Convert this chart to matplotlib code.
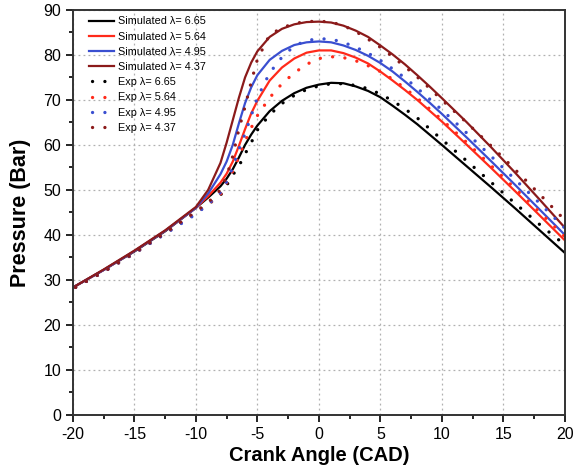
import numpy as np
import matplotlib
matplotlib.use("Agg")
import matplotlib.pyplot as plt
from matplotlib.ticker import MultipleLocator

plt.rcParams['font.family'] = ['Liberation Sans', 'DejaVu Sans']
plt.rcParams['axes.unicode_minus'] = False

# crank angle samples (CAD)
cad = [-20, -17.5, -15, -12.5, -10, -9, -8, -7.5, -7, -6.5, -6, -5.5, -5,
       -4, -3, -2, -1, 0, 1, 2, 3, 4, 5, 6, 7, 8, 9, 10, 12, 14, 16, 18, 20]

# simulated pressure (bar)
sim_665 = [28.3, 32.2, 36.3, 40.8, 46.0, 48.3, 50.8, 52.5, 54.6, 57.2, 60.0, 62.3, 64.3,
           67.5, 69.8, 71.5, 72.7, 73.4, 73.8, 73.7, 73.0, 72.0, 70.6, 68.7, 66.7, 64.6,
           62.3, 60.0, 55.3, 50.6, 45.8, 40.9, 36.0]
sim_564 = [28.3, 32.2, 36.4, 40.9, 46.0, 48.6, 51.6, 53.6, 56.3, 59.8, 63.5, 67.0, 69.8,
           74.3, 77.2, 79.2, 80.5, 81.0, 81.0, 80.4, 79.4, 78.1, 76.3, 74.3, 72.2, 70.0,
           67.6, 65.2, 60.1, 54.9, 49.6, 44.2, 38.8]
sim_495 = [28.3, 32.2, 36.4, 40.9, 46.0, 49.2, 53.5, 56.3, 60.0, 64.8, 69.3, 72.8, 75.5,
           78.9, 80.9, 82.2, 82.8, 83.0, 82.8, 82.1, 81.1, 79.8, 78.2, 76.3, 74.1, 71.8,
           69.4, 66.9, 61.7, 56.4, 51.0, 45.5, 40.0]
sim_437 = [28.3, 32.3, 36.5, 41.0, 46.2, 50.0, 56.0, 60.5, 65.5, 70.5, 75.0, 78.3, 80.8,
           84.0, 85.8, 86.8, 87.3, 87.4, 87.2, 86.5, 85.4, 84.0, 82.1, 80.1, 77.9, 75.5,
           73.0, 70.4, 65.1, 59.5, 53.7, 47.7, 41.6]

# experimental pressure (bar)
exp_665 = [28.0, 31.8, 35.9, 40.3, 45.0, 46.8, 48.8, 51.0, 53.3, 55.3, 58.0, 60.5, 63.3,
           66.7, 69.2, 71.0, 72.3, 73.1, 73.6, 73.6, 73.2, 72.5, 71.3, 69.8, 68.0, 66.0,
           63.6, 61.2, 56.5, 51.7, 46.9, 42.2, 37.8]
exp_564 = [28.0, 31.8, 35.9, 40.3, 44.8, 46.8, 49.0, 51.5, 54.2, 57.3, 60.8, 63.8, 66.5,
           70.5, 73.6, 76.0, 77.9, 79.2, 79.6, 79.4, 78.7, 77.6, 76.3, 74.6, 72.6, 70.4,
           68.0, 65.6, 60.6, 55.4, 50.2, 44.9, 39.6]
exp_495 = [28.0, 31.8, 35.9, 40.2, 44.6, 46.8, 49.4, 51.8, 55.0, 59.0, 62.5, 66.5, 70.5,
           76.0, 79.5, 82.0, 83.2, 83.6, 83.5, 82.8, 81.7, 80.4, 78.8, 76.9, 74.9, 72.6,
           70.2, 67.8, 62.7, 57.5, 52.2, 46.9, 41.5]
exp_437 = [28.0, 31.8, 36.0, 40.4, 45.2, 47.2, 50.0, 53.0, 57.5, 63.5, 68.5, 74.0, 79.0,
           84.5, 86.0, 87.0, 87.4, 87.5, 87.3, 86.5, 85.2, 83.5, 81.7, 79.6, 77.4, 75.1,
           72.6, 70.0, 65.0, 59.8, 54.4, 48.9, 43.3]

sim_series = [(sim_665, "#000000", "Simulated λ= 6.65"),
              (sim_564, "#ff2a1a", "Simulated λ= 5.64"),
              (sim_495, "#3a4fd0", "Simulated λ= 4.95"),
              (sim_437, "#8b1a1a", "Simulated λ= 4.37")]
exp_series = [(exp_665, "#000000", "Exp λ= 6.65"),
              (exp_564, "#ff2a1a", "Exp λ= 5.64"),
              (exp_495, "#3a4fd0", "Exp λ= 4.95"),
              (exp_437, "#8b1a1a", "Exp λ= 4.37")]

fig = plt.figure(figsize=(5.74, 4.73), dpi=100)
ax = fig.add_axes([0.127, 0.123, 0.857, 0.856])

for y, c, lab in sim_series:
    ax.plot(cad, y, "-", color=c, lw=1.6, label=lab)
# dotted exp curves; offset so the legend handle shows two dots
for y, c, lab in exp_series:
    ax.plot(cad, y, color=c, lw=2.4, linestyle=(2.8, (0.01, 3.7)),
            dash_capstyle="round", label=lab)

ax.set_xlim(-20, 20)
ax.set_ylim(0, 90)
ax.xaxis.set_major_locator(MultipleLocator(5))
ax.xaxis.set_minor_locator(MultipleLocator(2.5))
ax.yaxis.set_major_locator(MultipleLocator(10))
ax.yaxis.set_minor_locator(MultipleLocator(5))
ax.tick_params(which="major", direction="out", length=5, width=1.2, labelsize=11.5)
ax.tick_params(which="minor", direction="out", length=3, width=1.2)
ax.grid(True, which="major", linestyle=(0, (1.5, 2.5)), color="#b0b0b0", lw=0.9)
for s in ax.spines.values():
    s.set_linewidth(1.4)
    s.set_color("#333333")

ax.set_xlabel("Crank Angle (CAD)", fontsize=14.5, fontweight="bold", labelpad=3)
ax.set_ylabel("Pressure (Bar)", fontsize=15.5, fontweight="bold", labelpad=9)

ax.legend(loc="upper left", frameon=False, fontsize=7.8, handlelength=2.3,
          labelspacing=0.48, handletextpad=0.35, borderaxespad=0.2,
          bbox_to_anchor=(0.02, 1.0))

fig.savefig("out.png", dpi=100)
